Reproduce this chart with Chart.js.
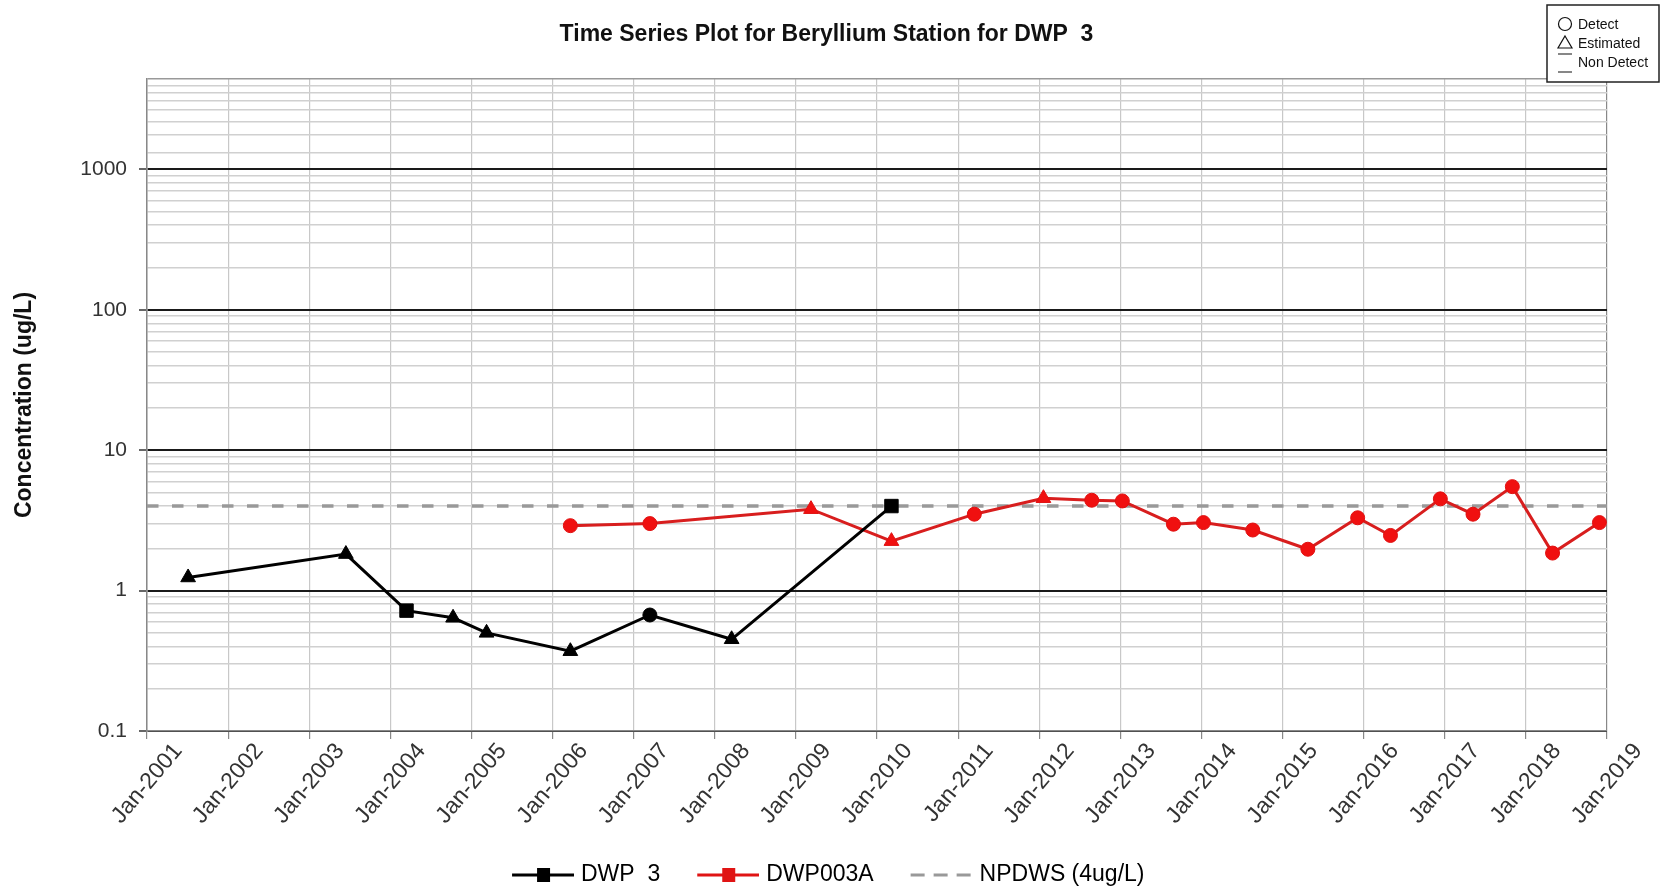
<!DOCTYPE html>
<html>
<head>
<meta charset="utf-8">
<title>Beryllium time series</title>
<script src="https://cdn.jsdelivr.net/npm/chart.js@4.4.1/dist/chart.umd.min.js"></script>
<style>
  html, body { margin: 0; padding: 0; background: #fff; }
  #wrap { width: 1661px; height: 891px; position: relative; }
</style>
</head>
<body>
<div id="wrap"><canvas id="tsChart"></canvas></div>
<script>
// ---------------- DATA -----------------------------
const xTickYears = [2001, 2002, 2003, 2004, 2005, 2006, 2007, 2008, 2009, 2010,
  2011, 2012, 2013, 2014, 2015, 2016, 2017, 2018, 2019];
const yLabelTicks = [0.1, 1, 10, 100, 1000];
const yAxisMax = 4400;

// D = detect, E = estimated, ND = non detect
const dwp3Dates = ["2001-07-05", "2003-06-15", "2004-03-14", "2004-10-10", "2005-03-10",
  "2006-03-22", "2007-03-15", "2008-03-17", "2010-03-07"];
const dwp3Values = [1.24, 1.82, 0.72, 0.64, 0.5, 0.37, 0.67, 0.45, 4.0];
const dwp3Flags = ["E", "E", "ND", "E", "E", "E", "D", "E", "ND"];

const dwp003aDates = ["2006-03-22", "2007-03-15", "2009-03-10", "2010-03-07", "2011-03-15",
  "2012-01-20", "2012-08-25", "2013-01-10", "2013-08-28", "2014-01-10", "2014-08-20",
  "2015-04-25", "2015-12-05", "2016-05-01", "2016-12-12", "2017-05-08", "2017-11-01",
  "2018-05-01", "2018-11-28"];
const dwp003aValues = [2.9, 3.0, 3.8, 2.25, 3.5, 4.55, 4.4, 4.35, 2.97, 3.05, 2.7,
  1.97, 3.3, 2.47, 4.5, 3.5, 5.5, 1.85, 3.05];
const dwp003aFlags = ["D", "D", "E", "E", "D", "E", "D", "D", "D", "D", "D",
  "D", "D", "D", "D", "D", "D", "D", "D"];

const npdwsLimit = 4;

// ---------------- HELPERS -----------------------------
const FONT = "'Liberation Sans', Arial, sans-serif";
const markerStyle = { D: "circle", E: "triangle", ND: "rect" };
const markerRadius = { circle: 7, triangle: 8.5, rect: 9.5 };
const LEGEND_BOX = 61;

// date string -> decimal year for the linear x axis
function toYear(s) {
  const d = new Date(s + "T00:00:00Z");
  const y = d.getUTCFullYear();
  const start = Date.UTC(y, 0, 1);
  const end = Date.UTC(y + 1, 0, 1);
  return y + (d.getTime() - start) / (end - start);
}

function toPoints(dates, values) {
  return dates.map((d, i) => ({ x: toYear(d), y: values[i] }));
}

// log grid: 1..9 in every full decade; the open decade under the axis
// max gets its minor lines at tenths of the max instead
function logGridValues(min, max) {
  const out = [];
  let dec = min;
  for (; dec * 10 <= max; dec *= 10) {
    for (let k = 1; k <= 9; k++) out.push(+(k * dec).toPrecision(3));
  }
  out.push(dec);
  for (let k = 1; k < 10; k++) {
    const v = +(k * max / 10).toPrecision(4);
    if (v > dec) out.push(v);
  }
  out.push(max);
  return out;
}

// legend symbol: 62px line sample pushed to the right end of the image,
// so it sits close to the label and leaves room before it
function legendIcon(color, dashed) {
  const c = document.createElement("canvas");
  c.width = LEGEND_BOX + 9;
  c.height = 16;
  const x0 = c.width - 62;
  const g = c.getContext("2d");
  g.strokeStyle = color;
  g.lineWidth = 3;
  if (dashed) g.setLineDash([14, 9]);
  g.beginPath();
  g.moveTo(x0, 8);
  g.lineTo(x0 + 62, 8);
  g.stroke();
  if (!dashed) {
    g.fillStyle = color;
    g.fillRect(x0 + 25, 1, 13, 14);
  }
  return c;
}

// key for the marker shapes, top right corner
const flagKeyBox = {
  id: "flagKeyBox",
  afterDraw(chart) {
    const ctx = chart.ctx;
    const x = chart.width - 114;
    const y = 5;
    ctx.save();
    ctx.fillStyle = "#fff";
    ctx.fillRect(x, y, 112, 77);
    ctx.strokeStyle = "#222";
    ctx.lineWidth = 1.5;
    ctx.strokeRect(x, y, 112, 77);
    ctx.strokeStyle = "#111";
    ctx.lineWidth = 1.2;
    ctx.beginPath();
    ctx.arc(x + 18, y + 19, 6.5, 0, Math.PI * 2);
    ctx.stroke();
    ctx.beginPath();
    ctx.moveTo(x + 18, y + 31);
    ctx.lineTo(x + 25, y + 43);
    ctx.lineTo(x + 11, y + 43);
    ctx.closePath();
    ctx.stroke();
    ctx.beginPath();
    ctx.moveTo(x + 11, y + 49); ctx.lineTo(x + 25, y + 49);
    ctx.moveTo(x + 11, y + 67); ctx.lineTo(x + 25, y + 67);
    ctx.stroke();
    ctx.fillStyle = "#111";
    ctx.font = "14px " + FONT;
    ctx.textBaseline = "middle";
    ctx.fillText("Detect", x + 31, y + 20);
    ctx.fillText("Estimated", x + 31, y + 39);
    ctx.fillText("Non Detect", x + 31, y + 58);
    ctx.restore();
  },
};

// ---------------- CHART -----------------------------
const yGrid = logGridValues(0.1, yAxisMax);

const datasets = [
  {
    label: "DWP  3",
    data: toPoints(dwp3Dates, dwp3Values),
    borderColor: "#000",
    backgroundColor: "#000",
    borderWidth: 3,
    pointStyle: dwp3Flags.map((f) => markerStyle[f]),
    pointRadius: dwp3Flags.map((f) => markerRadius[markerStyle[f]]),
    pointBackgroundColor: "#000",
    pointBorderColor: "#000",
    pointBorderWidth: 1,
    legendSymbol: legendIcon("#000", false),
  },
  {
    label: "DWP003A",
    data: toPoints(dwp003aDates, dwp003aValues),
    borderColor: "#d81e1e",
    backgroundColor: "#f01010",
    borderWidth: 3,
    pointStyle: dwp003aFlags.map((f) => markerStyle[f]),
    pointRadius: dwp003aFlags.map((f) => markerRadius[markerStyle[f]]),
    pointBackgroundColor: "#f01010",
    pointBorderColor: "#e01010",
    pointBorderWidth: 1,
    legendSymbol: legendIcon("#e01414", false),
  },
  {
    label: "NPDWS (4ug/L)",
    data: [
      { x: xTickYears[0], y: npdwsLimit },
      { x: xTickYears[xTickYears.length - 1], y: npdwsLimit },
    ],
    borderColor: "#999",
    borderWidth: 3.5,
    borderDash: [11.5, 13.5],
    pointRadius: 0,
    legendSymbol: legendIcon("#999", true),
  },
];

const chartConfig = {
  type: "line",
  data: { datasets },
  plugins: [flagKeyBox],
  options: {
    responsive: true,
    maintainAspectRatio: false,
    animation: false,
    devicePixelRatio: 1,
    layout: { padding: { left: 0, right: 8, top: 0, bottom: -5.5 } },
    elements: { line: { tension: 0 } },
    plugins: {
      tooltip: { enabled: false },
      title: {
        display: true,
        text: "Time Series Plot for Beryllium Station for DWP  3",
        color: "#111",
        font: { family: FONT, size: 23, weight: "bold" },
        padding: { top: 21, bottom: 30.4 },
      },
      legend: {
        position: "bottom",
        labels: {
          usePointStyle: true,
          pointStyleWidth: LEGEND_BOX,
          padding: 33.5,
          color: "#222",
          font: { family: FONT, size: 23 },
          generateLabels: (chart) =>
            chart.data.datasets.map((ds, i) => ({
              text: ds.label,
              pointStyle: ds.legendSymbol,
              fillStyle: ds.borderColor,
              strokeStyle: ds.borderColor,
              lineWidth: 0,
              hidden: false,
              datasetIndex: i,
            })),
        },
      },
    },
    scales: {
      x: {
        type: "linear",
        min: xTickYears[0],
        max: xTickYears[xTickYears.length - 1],
        afterBuildTicks: (scale) => {
          scale.ticks = xTickYears.map((v) => ({ value: v }));
        },
        afterFit: (scale) => {
          scale.height = 99;
          scale.paddingLeft = 0;
          scale.paddingRight = 54;
        },
        ticks: {
          autoSkip: false,
          minRotation: 50,
          maxRotation: 50,
          padding: -1,
          labelOffset: 31,
          color: "#333",
          font: { family: FONT, size: 23 },
          callback: (v) => "Jan-" + v,
        },
        grid: {
          color: (c) => (c.index === xTickYears.length - 1 ? "#888" : "#c8c8c8"),
          lineWidth: 1.2,
          tickLength: 8,
          tickColor: "#888",
        },
        border: { color: "#888", width: 1.5 },
      },
      y: {
        type: "logarithmic",
        min: 0.1,
        max: yAxisMax,
        afterBuildTicks: (scale) => {
          scale.ticks = yGrid.map((v) => ({ value: v }));
        },
        afterFit: (scale) => {
          scale.width = 147;
          scale.paddingTop = 0;
          scale.paddingBottom = 0;
        },
        title: {
          display: true,
          text: "Concentration (ug/L)",
          color: "#111",
          font: { family: FONT, size: 23, weight: "bold" },
          padding: { top: 11, bottom: 0 },
        },
        ticks: {
          autoSkip: false,
          padding: 12,
          color: "#333",
          font: { family: FONT, size: 21 },
          callback: (v) => (yLabelTicks.includes(v) ? String(v) : ""),
        },
        grid: {
          color: (c) => {
            const v = c.tick && c.tick.value;
            if (yLabelTicks.includes(v)) return "#1a1a1a";
            if (v === yAxisMax) return "#999";
            return "#d0d0d0";
          },
          lineWidth: (c) => (c.tick && yLabelTicks.includes(c.tick.value) ? 2 : 1.5),
          tickLength: 8,
          tickColor: (c) => (c.tick && yLabelTicks.includes(c.tick.value) ? "#666" : "rgba(0,0,0,0)"),
        },
        border: { color: "#888", width: 1.5 },
      },
    },
  },
};

// RENDER THE CHART
const tsChart = new Chart(document.getElementById("tsChart"), chartConfig);
</script>
</body>
</html>
